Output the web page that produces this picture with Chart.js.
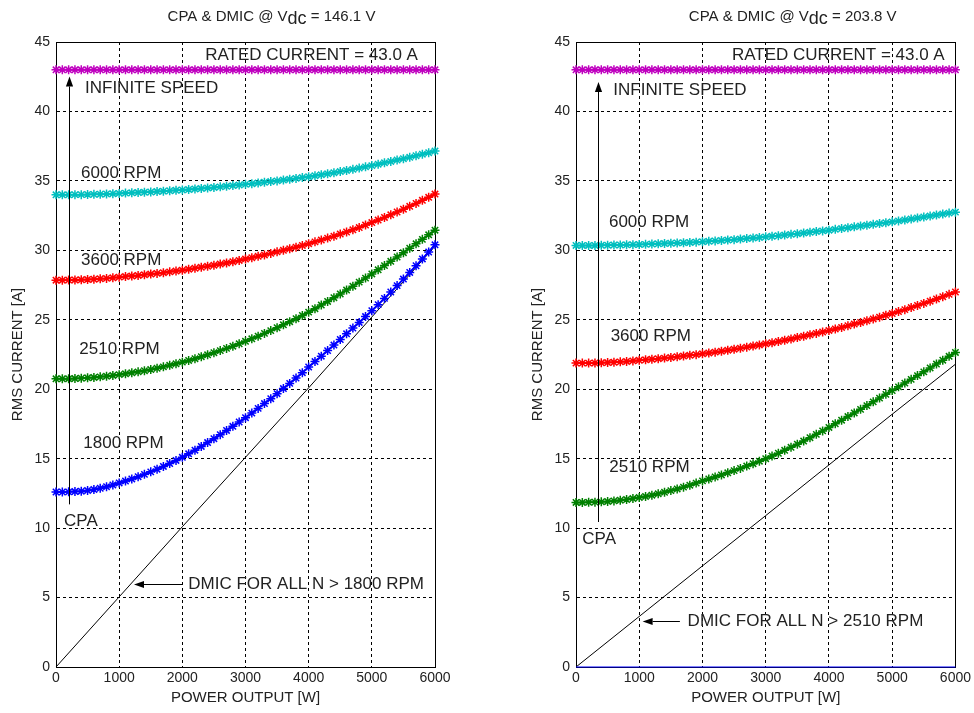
<!DOCTYPE html>
<html><head><meta charset="utf-8">
<script src="https://cdn.jsdelivr.net/npm/chart.js@4/dist/chart.umd.min.js"></script>
<style>
html,body{margin:0;padding:0;background:#fff;}
#wrap{position:relative;width:974px;height:713px;overflow:hidden;}
.c{position:absolute;top:0;width:487px;height:713px;}
</style></head><body>
<div id="wrap">
<div class="c" style="left:0"><canvas id="left" width="487" height="713"></canvas></div>
<div class="c" style="left:487px"><canvas id="right" width="487" height="713"></canvas></div>
</div>
<script>
// ---------- DATA ----------
const powerW = [0,100,200,300,400,500,600,700,800,900,1000,1100,1200,1300,1400,1500,1600,1700,1800,1900,2000,2100,2200,2300,2400,2500,2600,2700,2800,2900,3000,3100,3200,3300,3400,3500,3600,3700,3800,3900,4000,4100,4200,4300,4400,4500,4600,4700,4800,4900,5000,5100,5200,5300,5400,5500,5600,5700,5800,5900,6000];

const ratedCurrent = [43,43,43,43,43,43,43,43,43,43,43,43,43,43,43,43,43,43,43,43,43,43,43,43,43,43,43,43,43,43,43,43,43,43,43,43,43,43,43,43,43,43,43,43,43,43,43,43,43,43,43,43,43,43,43,43,43,43,43,43,43];

// Vdc = 146.1 V
const left6000 = [34.00,34.00,34.00,34.01,34.01,34.02,34.03,34.04,34.06,34.08,34.10,
  34.12,34.14,34.16,34.18,34.20,34.23,34.26,34.29,34.32,34.35,
  34.38,34.42,34.45,34.49,34.53,34.57,34.61,34.66,34.70,34.75,
  34.80,34.85,34.90,34.95,35.00,35.06,35.12,35.18,35.24,35.30,
  35.37,35.44,35.51,35.59,35.67,35.75,35.83,35.92,36.01,36.10,
  36.20,36.30,36.40,36.50,36.60,36.70,36.81,36.92,37.03,37.15];
const left3600 = [27.85,27.85,27.86,27.87,27.88,27.90,27.92,27.95,27.98,28.02,28.07,
  28.11,28.15,28.19,28.24,28.29,28.34,28.39,28.45,28.51,28.57,
  28.64,28.71,28.78,28.85,28.93,29.01,29.09,29.18,29.27,29.37,
  29.47,29.57,29.67,29.78,29.89,30.00,30.11,30.23,30.35,30.48,
  30.61,30.74,30.88,31.02,31.17,31.32,31.48,31.64,31.82,32.00,
  32.18,32.37,32.56,32.76,32.96,33.17,33.38,33.60,33.82,34.05];
const left2510 = [20.75,20.75,20.76,20.77,20.79,20.82,20.85,20.89,20.94,20.99,21.05,
  21.11,21.18,21.25,21.33,21.42,21.51,21.61,21.72,21.83,21.95,
  22.07,22.20,22.34,22.48,22.63,22.78,22.94,23.10,23.27,23.45,
  23.63,23.82,24.02,24.22,24.43,24.64,24.86,25.08,25.31,25.55,
  25.80,26.06,26.32,26.59,26.86,27.14,27.42,27.71,28.00,28.30,
  28.60,28.90,29.21,29.52,29.83,30.15,30.47,30.79,31.12,31.45];
const left1800 = [12.60,12.60,12.61,12.63,12.66,12.71,12.78,12.87,12.98,13.11,13.25,
  13.39,13.54,13.70,13.87,14.05,14.24,14.44,14.65,14.87,15.10,
  15.35,15.61,15.88,16.16,16.44,16.73,17.03,17.33,17.64,17.95,
  18.28,18.62,18.97,19.32,19.68,20.05,20.42,20.80,21.19,21.60,
  21.99,22.38,22.78,23.18,23.58,23.99,24.40,24.81,25.23,25.65,
  26.09,26.54,27.00,27.46,27.93,28.41,28.89,29.38,29.88,30.40];

// Vdc = 203.8 V
const right6000 = [30.35,30.35,30.35,30.35,30.36,30.37,30.38,30.39,30.40,30.41,30.42,
  30.43,30.45,30.47,30.49,30.51,30.53,30.55,30.57,30.59,30.62,
  30.65,30.68,30.71,30.74,30.77,30.81,30.85,30.89,30.93,30.97,
  31.01,31.05,31.10,31.15,31.20,31.25,31.30,31.35,31.40,31.45,
  31.51,31.57,31.63,31.69,31.75,31.81,31.87,31.93,31.99,32.05,
  32.12,32.19,32.26,32.33,32.40,32.47,32.54,32.61,32.68,32.75];
const right3600 = [21.88,21.88,21.88,21.89,21.90,21.92,21.94,21.97,22.00,22.04,22.08,
  22.12,22.16,22.20,22.24,22.29,22.34,22.39,22.44,22.49,22.55,
  22.61,22.67,22.74,22.81,22.88,22.95,23.03,23.11,23.19,23.27,
  23.35,23.44,23.53,23.62,23.72,23.82,23.92,24.02,24.12,24.23,
  24.34,24.45,24.57,24.69,24.81,24.93,25.06,25.19,25.32,25.45,
  25.59,25.73,25.88,26.03,26.18,26.34,26.50,26.66,26.83,27.00];
const right2510 = [11.85,11.85,11.86,11.87,11.89,11.92,11.96,12.01,12.06,12.13,12.20,
  12.28,12.37,12.47,12.58,12.70,12.82,12.95,13.09,13.24,13.40,
  13.54,13.68,13.83,13.98,14.14,14.30,14.47,14.64,14.82,15.00,
  15.19,15.39,15.60,15.82,16.04,16.27,16.51,16.75,17.00,17.25,
  17.51,17.77,18.03,18.29,18.55,18.82,19.09,19.36,19.63,19.90,
  20.17,20.44,20.71,20.98,21.25,21.53,21.81,22.09,22.37,22.65];

// DMIC straight lines
const dmicPowerW = [0,1000,2000,3000,4000,5000,6000];
const leftDmic  = [0,5.05,10.1,15.1,20.1,25.2,30.3];
const rightDmic = [0,3.64,7.28,10.9,14.55,18.2,21.8];
const zeroPowerW = [0,6000];
const right1800 = [0,0];

// tick labels
const xTickValues = [0,1000,2000,3000,4000,5000,6000];
const yTickValues = [0,5,10,15,20,25,30,35,40,45];

// ---------- STYLE / LAYOUT ----------
const FONT = '"Liberation Sans", Arial, Helvetica, sans-serif';
Chart.defaults.font.family = FONT;
const TXT = '#222';
const C_MAG = '#bf00bf', C_CYAN = '#00bfbf', C_RED = '#ff0000', C_GREEN = '#008000', C_BLUE = '#0000ff';

function starSeries(xs, ys, color) {
  return {
    data: xs.map((x, i) => ({x: x, y: ys[i]})),
    borderColor: color, backgroundColor: color, borderWidth: 2,
    pointStyle: 'star', pointRadius: 4.5, pointBorderWidth: 1.5,
    pointBorderColor: color, pointBackgroundColor: color,
    fill: false, tension: 0, clip: 8
  };
}
function plainLine(xs, ys, color) {
  return {
    data: xs.map((x, i) => ({x: x, y: ys[i]})),
    borderColor: color, backgroundColor: color, borderWidth: 1,
    pointRadius: 0, fill: false, tension: 0, clip: 2
  };
}

const decor = {
  id: 'decor',
  beforeDatasetsDraw(chart) {
    const ctx = chart.ctx, a = chart.chartArea;
    ctx.save();
    ctx.strokeStyle = '#000'; ctx.lineWidth = 1; ctx.setLineDash([]);
    ctx.strokeRect(Math.round(a.left) + 0.5, Math.round(a.top) + 0.5,
      Math.round(a.right) - Math.round(a.left), Math.round(a.bottom) - Math.round(a.top));
    ctx.restore();
  },
  afterDatasetsDraw(chart, args, o) {
    const ctx = chart.ctx, xs = chart.scales.x, ys = chart.scales.y;
    ctx.save();
    ctx.setLineDash([]);
    // arrows
    (o.arrows || []).forEach(ar => {
      const x1 = xs.getPixelForValue(ar.x1), y1 = ys.getPixelForValue(ar.y1);
      const x2 = xs.getPixelForValue(ar.x2), y2 = ys.getPixelForValue(ar.y2);
      const ang = Math.atan2(y2 - y1, x2 - x1);
      const L = 10, H = 3.6;
      const bx = x2 - L * Math.cos(ang), by = y2 - L * Math.sin(ang);
      ctx.strokeStyle = '#000'; ctx.fillStyle = '#000'; ctx.lineWidth = 1;
      const vx = ar.x1 === ar.x2 ? Math.round(x1) + 0.5 : null;
      ctx.beginPath();
      if (vx !== null) { ctx.moveTo(vx, y1); ctx.lineTo(vx, by); }
      else { const hy = Math.round(y1) + 0.5; ctx.moveTo(x1, hy); ctx.lineTo(bx, hy); }
      ctx.stroke();
      const tx = vx !== null ? vx : x2, ty = vx !== null ? y2 : Math.round(y2) + 0.5;
      const bbx = vx !== null ? vx : bx, bby = vx !== null ? by : Math.round(y2) + 0.5;
      ctx.beginPath();
      ctx.moveTo(tx, ty);
      ctx.lineTo(bbx - H * Math.sin(ang), bby + H * Math.cos(ang));
      ctx.lineTo(bbx + H * Math.sin(ang), bby - H * Math.cos(ang));
      ctx.closePath(); ctx.fill();
    });
    // notes
    ctx.fillStyle = TXT;
    ctx.font = '17px ' + FONT;
    ctx.textBaseline = 'middle';
    (o.notes || []).forEach(n => {
      ctx.textAlign = n.align || 'left';
      ctx.fillText(n.text, xs.getPixelForValue(n.x), ys.getPixelForValue(n.y));
    });
    ctx.restore();
  },
  afterDraw(chart, args, o) {
    const ctx = chart.ctx, a = chart.chartArea;
    ctx.save();
    ctx.fillStyle = TXT; ctx.textBaseline = 'alphabetic'; ctx.textAlign = 'left';
    const p1 = 'CPA & DMIC @ V', p2 = 'dc', p3 = ' = ' + o.volt;
    ctx.font = '15px ' + FONT; const w1 = ctx.measureText(p1).width, w3 = ctx.measureText(p3).width;
    ctx.font = '18px ' + FONT; const w2 = ctx.measureText(p2).width;
    let x = (a.left + a.right) / 2 + o.titleShift - (w1 + w2 + w3) / 2;
    const base = 20.5;
    ctx.font = '15px ' + FONT; ctx.fillText(p1, x, base); x += w1;
    ctx.font = '18px ' + FONT; ctx.fillText(p2, x, base + 3.5); x += w2;
    ctx.font = '15px ' + FONT; ctx.fillText(p3, x, base);
    ctx.restore();
  }
};

function makeChart(id, datasets, yAxisWidth, padRight, yTitlePad, decorOpts) {
  return new Chart(document.getElementById(id), {
    type: 'line',
    data: { datasets: datasets },
    plugins: [decor],
    options: {
      responsive: false, animation: false, events: [],
      layout: { padding: { left: 0, right: padRight, top: 42, bottom: 0 } },
      plugins: { legend: { display: false }, tooltip: { enabled: false }, title: { display: false }, decor: decorOpts },
      scales: {
        x: {
          type: 'linear', min: 0, max: 6000,
          afterBuildTicks: s => { s.ticks = xTickValues.map(v => ({value: v})); },
          afterFit: s => { s.height = 46; },
          grid: { color: '#000', lineWidth: 1, drawTicks: false },
          border: { color: '#000', width: 1, dash: [3, 3] },
          ticks: { padding: 3, color: TXT, font: { size: 14 }, maxRotation: 0, autoSkip: false,
                   callback: v => String(v) },
          title: { display: true, text: 'POWER OUTPUT [W]', color: TXT, font: { size: 15 }, padding: { top: 0, bottom: 6 } }
        },
        y: {
          type: 'linear', min: 0, max: 45,
          afterBuildTicks: s => { s.ticks = yTickValues.map(v => ({value: v})); },
          afterFit: s => { s.width = yAxisWidth; },
          grid: { color: '#000', lineWidth: 1, drawTicks: false },
          border: { color: '#000', width: 1, dash: [3, 3] },
          ticks: { padding: 6, color: TXT, font: { size: 14 }, autoSkip: false, callback: v => String(v) },
          title: { display: true, text: 'RMS CURRENT [A]', color: TXT, font: { size: 15 }, padding: { top: yTitlePad, bottom: 0 } }
        }
      }
    }
  });
}

makeChart('left', [
  starSeries(powerW, ratedCurrent, C_MAG),
  starSeries(powerW, left6000, C_CYAN),
  starSeries(powerW, left3600, C_RED),
  starSeries(powerW, left2510, C_GREEN),
  starSeries(powerW, left1800, C_BLUE),
  plainLine(dmicPowerW, leftDmic, '#000')
], 56, 52, 9, {
  volt: '146.1 V', titleShift: 26,
  notes: [
    {text: 'RATED CURRENT = 43.0 A', x: 5730, y: 44.04, align: 'right'},
    {text: 'INFINITE SPEED', x: 459, y: 41.66},
    {text: '6000 RPM', x: 396, y: 35.57},
    {text: '3600 RPM', x: 396, y: 29.28},
    {text: '2510 RPM', x: 369, y: 22.85},
    {text: '1800 RPM', x: 432, y: 16.13},
    {text: 'CPA', x: 127, y: 10.51},
    {text: 'DMIC FOR ALL N > 1800 RPM', x: 2094, y: 5.98}
  ],
  arrows: [
    {x1: 211, y1: 11.71, x2: 211, y2: 42.52},
    {x1: 2010, y1: 5.98, x2: 1235, y2: 5.98}
  ]
});

makeChart('right', [
  starSeries(powerW, ratedCurrent, C_MAG),
  starSeries(powerW, right6000, C_CYAN),
  starSeries(powerW, right3600, C_RED),
  starSeries(powerW, right2510, C_GREEN),
  plainLine(zeroPowerW, right1800, C_BLUE),
  plainLine(dmicPowerW, rightDmic, '#000')
], 89, 18, 42, {
  volt: '203.8 V', titleShift: 27,
  notes: [
    {text: 'RATED CURRENT = 43.0 A', x: 5830, y: 44.04, align: 'right'},
    {text: 'INFINITE SPEED', x: 590, y: 41.5},
    {text: '6000 RPM', x: 521, y: 32.04},
    {text: '3600 RPM', x: 548, y: 23.81},
    {text: '2510 RPM', x: 527, y: 14.4},
    {text: 'CPA', x: 100, y: 9.17},
    {text: 'DMIC FOR ALL N > 2510 RPM', x: 1765, y: 3.31}
  ],
  arrows: [
    {x1: 352, y1: 10.44, x2: 352, y2: 42.12},
    {x1: 1643, y1: 3.31, x2: 1054, y2: 3.31}
  ]
});
</script>
</body></html>
